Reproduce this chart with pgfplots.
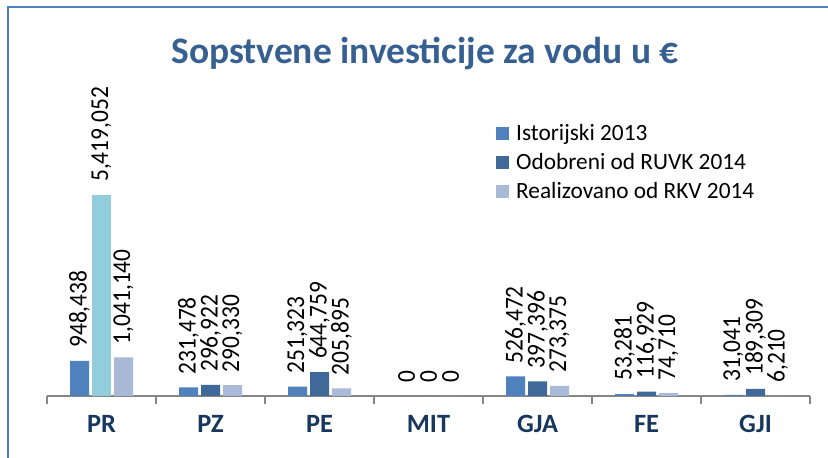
\documentclass[border=0pt]{standalone}
\usepackage{fontspec}
\setmainfont{Carlito}
\usepackage{pgfplots}
\pgfplotsset{compat=1.18}
\definecolor{framec}{RGB}{79,129,189}
\definecolor{titlec}{RGB}{55,96,146}
\definecolor{tickc}{RGB}{23,55,94}
\definecolor{sA}{RGB}{79,129,189}
\definecolor{sB}{RGB}{64,105,154}
\definecolor{sC}{RGB}{169,185,216}
\definecolor{sCyan}{RGB}{146,205,220}
\definecolor{axc}{RGB}{134,134,134}
\begin{document}
\begin{tikzpicture}[x=1bp,y=1bp]
\path[use as bounding box] (0,0) rectangle (828,458);
\draw[framec, line width=2bp] (7.5,0) -- (7.5,450.5) -- (828,450.5);
\node[font=\bfseries\fontsize{37.6}{44}\selectfont, text=titlec] at (425,404) {Sopstvene investicije za vodu u €};
\begin{axis}[
  at={(47bp,62bp)}, anchor=south west,
  scale only axis, width=763bp, height=330bp,
  ybar, bar width=19bp,
  ymin=0, ymax=8.897e6,
  xmin=-0.5, xmax=6.5,
  clip=false,
  separate axis lines,
  axis y line=none,
  axis x line*=bottom,
  x axis line style={draw=axc, line width=2bp, -},
  ytick=\empty,
  xtick={0,1,2,3,4,5,6},
  xticklabels={PR,PZ,PE,MIT,GJA,FE,GJI},
  major tick length=0pt,
  extra x ticks={-0.5,0.5,1.5,2.5,3.5,4.5,5.5,6.5},
  extra x tick labels={},
  extra x tick style={major tick length=8bp, tick align=outside, tick style={draw=axc, line width=2bp}},
  xticklabel style={font=\bfseries\fontsize{26.5}{30}\selectfont, text=tickc, anchor=base, yshift=-37bp},
  point meta=explicit symbolic,
  nodes near coords,
  every node near coord/.append style={rotate=90, yscale=1.1, anchor=west, font=\fontsize{23.5}{28}\selectfont, text=black, inner xsep=13bp, inner ysep=0pt},
  legend style={at={(axis description cs:0.5845,0.836)}, anchor=north west, draw=none, fill=none, font=\fontsize{23.4}{27}\selectfont, row sep=7.5bp},
  legend cell align=left,
  legend image code/.code={\draw[#1,draw=none] (0bp,-6.5bp) rectangle (13bp,6.5bp); \path (18bp,0bp);},
]
\addplot[fill=sA, draw=none, bar shift=-22bp] coordinates {
  (0,948438) [948,438]
  (1,231478) [231,478]
  (2,251323) [251,323]
  (3,0) [0]
  (4,526472) [526,472]
  (5,53281) [53,281]
  (6,31041) [31,041]
};
\addlegendentry{Istorijski 2013}
\addplot[fill=sB, draw=none, bar shift=0bp] coordinates {
  (1,296922) [296,922]
  (2,644759) [644,759]
  (3,0) [0]
  (4,397396) [397,396]
  (5,116929) [116,929]
  (6,189309) [189,309]
};
\addlegendentry{Odobreni od RUVK 2014}
\addplot[fill=sC, draw=none, bar shift=22bp] coordinates {
  (0,1041140) [1,041,140]
  (1,290330) [290,330]
  (2,205895) [205,895]
  (3,0) [0]
  (4,273375) [273,375]
  (5,74710) [74,710]
  (6,6210) [6,210]
};
\addlegendentry{Realizovano od RKV 2014}
\addplot[fill=sCyan, draw=none, bar shift=0bp, forget plot] coordinates {
  (0,5419052) [5,419,052]
};
\end{axis}
\end{tikzpicture}
\end{document}
